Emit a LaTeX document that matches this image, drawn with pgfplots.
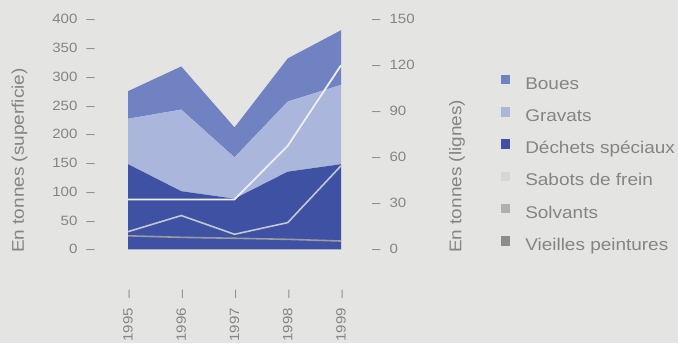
\documentclass[border=0pt]{standalone}
\usepackage{pgfplots}
\pgfplotsset{compat=1.18}
\usepackage{fontspec}
\setmainfont{Liberation Sans}[FakeStretch=1.12]
\definecolor{bgc}{HTML}{E4E4E2}
\definecolor{txt}{HTML}{858585}
\definecolor{boues}{HTML}{7182C2}
\definecolor{gravats}{HTML}{AAB6DC}
\definecolor{dechets}{HTML}{3F51A3}
\definecolor{sabots}{HTML}{EEEEF2}
\definecolor{solvants}{HTML}{C4C6D4}
\definecolor{vieilles}{HTML}{9A9CA4}
\definecolor{lsabots}{HTML}{D6D6D6}
\definecolor{lsolvants}{HTML}{B0B0B0}
\definecolor{lvieilles}{HTML}{8C8C8C}
\begin{document}
\begin{tikzpicture}[x=1bp,y=1bp]
\useasboundingbox (0,0) rectangle (678,343);
\clip (0,0) rectangle (678,343);
\fill[bgc] (0,0) rectangle (678,343);
\begin{axis}[
  at={(128bp,93.7bp)}, anchor=south west,
  scale only axis, width=213bp, height=230bp,
  xmin=1995, xmax=1999, ymin=0, ymax=400,
  axis line style={draw=none}, major tick length=0pt,
  /pgf/number format/assume math mode=true,
  xtick={1995,1996,1997,1998,1999},
  xticklabels={1995\hspace{9bp}–,1996\hspace{9bp}–,1997\hspace{9bp}–,1998\hspace{9bp}–,1999\hspace{9bp}–},
  xticklabel style={rotate=90, anchor=east, inner sep=0pt, xshift=-41bp},
  ytick={0,50,...,400},
  yticklabel={\pgfmathprintnumber{\tick}\hspace{9bp}–},
  yticklabel style={anchor=east, inner sep=0pt, xshift=-33bp},
  tick label style={font=\fontsize{13.5}{15}\selectfont, text=txt},
  stack plots=y,
  clip=false,
]
\addplot[fill=dechets, draw=none] coordinates {(1995,148) (1996,101) (1997,88) (1998,135) (1999,148)} \closedcycle;
\addplot[fill=gravats, draw=none] coordinates {(1995,79) (1996,142) (1997,72) (1998,122) (1999,138)} \closedcycle;
\addplot[fill=boues, draw=none] coordinates {(1995,48) (1996,75) (1997,52) (1998,75) (1999,95)} \closedcycle;
\end{axis}
\begin{axis}[
  at={(128bp,93.7bp)}, anchor=south west,
  scale only axis, width=213bp, height=230bp,
  xmin=1995, xmax=1999, ymin=0, ymax=150,
  axis x line=none, axis y line*=right,
  axis line style={draw=none}, major tick length=0pt,
  /pgf/number format/assume math mode=true,
  ytick={0,30,...,150},
  yticklabel={–\hspace{9bp}\pgfmathprintnumber{\tick}},
  yticklabel style={anchor=west, inner sep=0pt, xshift=31bp},
  tick label style={font=\fontsize{13.5}{15}\selectfont, text=txt},
  clip=false,
  legend image code/.code={\fill[#1] (0bp,0.7bp) rectangle (9.3bp,10bp);},
  legend cell align=left,
  legend style={at={(1.751,0.758)}, anchor=north west, draw=none, fill=none,
    inner sep=0pt, outer sep=0pt, row sep=14.5bp, column sep=15bp,
    font=\fontsize{17}{19}\selectfont, text=txt,
    nodes={inner sep=0pt, text height=12bp, text depth=3.5bp}},
]
\addlegendimage{fill=boues, draw=none}
\addlegendentry{Boues}
\addlegendimage{fill=gravats, draw=none}
\addlegendentry{Gravats}
\addlegendimage{fill=dechets, draw=none}
\addlegendentry{Déchets spéciaux}
\addlegendimage{fill=lsabots, draw=none}
\addlegendentry{Sabots de frein}
\addlegendimage{fill=lsolvants, draw=none}
\addlegendentry{Solvants}
\addlegendimage{fill=lvieilles, draw=none}
\addlegendentry{Vieilles peintures}
\addplot[forget plot, vieilles, line width=1.6bp] coordinates {(1995,8.8) (1996,7.8) (1997,7.2) (1998,6.5) (1999,5.4)};
\addplot[forget plot, solvants, line width=1.6bp] coordinates {(1995,11.5) (1996,22) (1997,9.8) (1998,17.4) (1999,54.5)};
\addplot[forget plot, sabots, line width=1.8bp] coordinates {(1995,32.5) (1996,32.5) (1997,32.5) (1998,67.5) (1999,120)};
\end{axis}
\node[rotate=90, anchor=west, inner sep=0pt, font=\fontsize{17}{20}\selectfont, text=txt] at (19.5,90) {En tonnes (superficie)};
\node[rotate=90, anchor=west, inner sep=0pt, font=\fontsize{17}{20}\selectfont, text=txt] at (457,90) {En tonnes (lignes)};
\end{tikzpicture}
\end{document}
